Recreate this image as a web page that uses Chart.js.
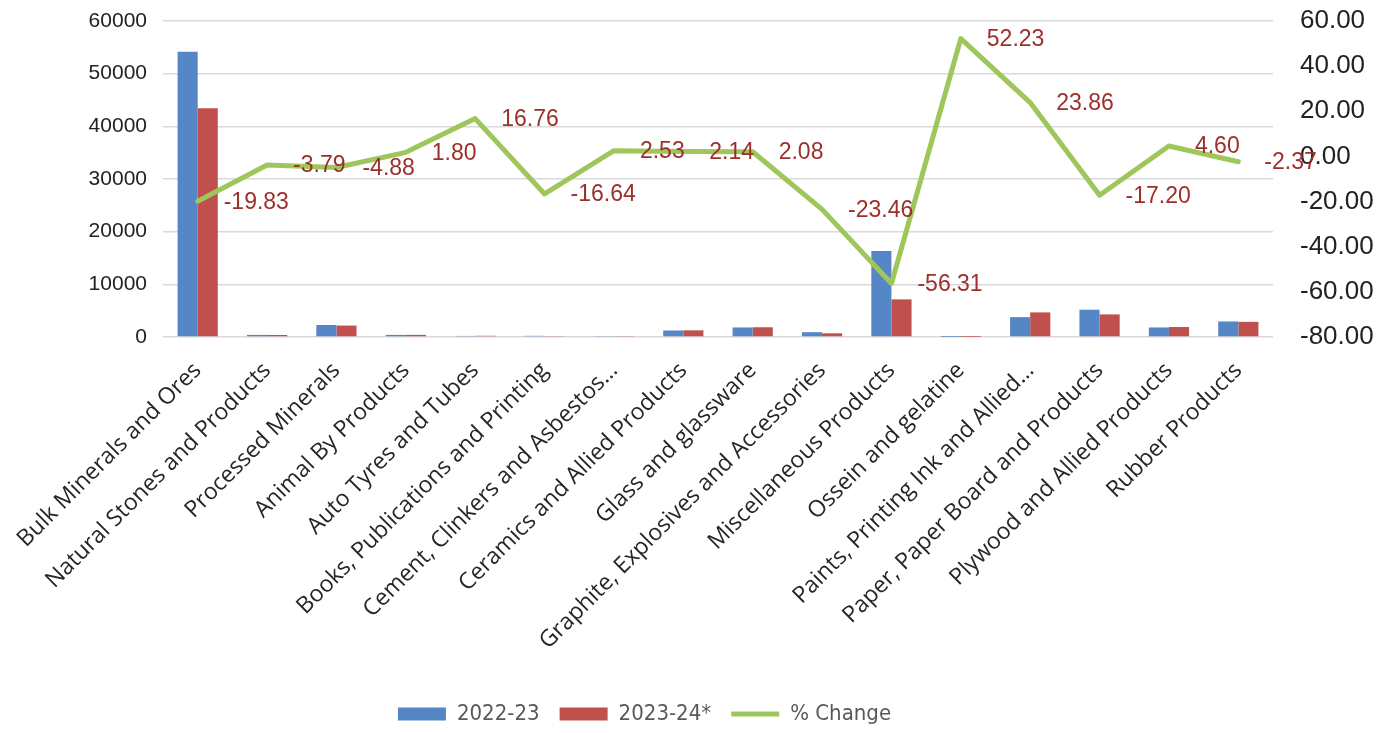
<!DOCTYPE html>
<html>
<head>
<meta charset="utf-8">
<script src="https://cdn.jsdelivr.net/npm/chart.js@4.4.1/dist/chart.umd.min.js"></script>
<style>
  html, body { margin: 0; padding: 0; background: #ffffff; }
  #wrap { width: 1397px; height: 733px; position: relative; }
</style>
</head>
<body>
<div id="wrap"><canvas id="c" width="1397" height="733"></canvas></div>
<script>
const categories = [
  "Bulk Minerals and Ores",
  "Natural Stones and Products",
  "Processed Minerals",
  "Animal By Products",
  "Auto Tyres and Tubes",
  "Books, Publications and Printing",
  "Cement, Clinkers and Asbestos…",
  "Ceramics and Allied Products",
  "Glass and glassware",
  "Graphite, Explosives and Accessories",
  "Miscellaneous Products",
  "Ossein and gelatine",
  "Paints, Printing Ink and Allied…",
  "Paper, Paper Board and Products",
  "Plywood and Allied Products",
  "Rubber Products"
];
const values2022 = [54170, 400, 2280, 400, 200, 220, 180, 1240, 1810, 915, 16350, 6, 3770, 5180, 1810, 2950];
const values2023 = [43430, 385, 2170, 407, 233, 183, 185, 1271, 1849, 700, 7143, 9, 4670, 4290, 1893, 2880];
const pctChange = [-19.83, -3.79, -4.88, 1.80, 16.76, -16.64, 2.53, 2.14, 2.08, -23.46, -56.31, 52.23, 23.86, -17.20, 4.60, -2.37];
const leftTicks = { min: 0, max: 60000, step: 10000 };
const rightTicks = { min: -80, max: 60, step: 20 };
const seriesNames = ["2022-23", "2023-24*", "% Change"];

const lineLabels = {
  id: 'lineLabels',
  afterDatasetsDraw(chart) {
    const idx = 2;
    const meta = chart.getDatasetMeta(idx);
    const data = chart.data.datasets[idx].data;
    const ctx = chart.ctx;
    ctx.save();
    ctx.font = '23px "Liberation Sans", Arial, sans-serif';
    ctx.fillStyle = '#9C2F2B';
    ctx.textAlign = 'left';
    ctx.textBaseline = 'middle';
    meta.data.forEach((pt, i) => {
      ctx.fillText(Number(data[i]).toFixed(2), pt.x + 26, pt.y + 1);
    });
    ctx.restore();
  }
};

// Excel centres the legend slightly left of the page centre
const legendShift = {
  id: 'legendShift',
  afterLayout(chart) {
    const lg = chart.legend;
    if (lg) { lg.left -= 54; lg.right -= 54; }
  }
};

new Chart(document.getElementById('c'), {
  data: {
    labels: categories,
    datasets: [
      {
        type: 'bar', label: seriesNames[0], data: values2022,
        backgroundColor: '#5587C6', borderWidth: 0, yAxisID: 'y', order: 1,
        categoryPercentage: 0.58, barPercentage: 1.0, pointStyle: 'rect'
      },
      {
        type: 'bar', label: seriesNames[1], data: values2023,
        backgroundColor: '#C0504D', borderWidth: 0, yAxisID: 'y', order: 1,
        categoryPercentage: 0.58, barPercentage: 1.0, pointStyle: 'rect'
      },
      {
        type: 'line', label: seriesNames[2], data: pctChange,
        borderColor: '#9FC65A', backgroundColor: '#9FC65A', borderWidth: 5,
        pointRadius: 0, tension: 0, yAxisID: 'y1', order: 0,
        borderJoinStyle: 'round', borderCapStyle: 'round', pointStyle: 'line'
      }
    ]
  },
  options: {
    responsive: false,
    animation: false,
    devicePixelRatio: 1,
    layout: { padding: { left: 0, right: 0, top: 21, bottom: -2 } },
    plugins: {
      tooltip: { enabled: false },
      legend: {
        position: 'bottom',
        labels: {
          usePointStyle: true,
          pointStyleWidth: 48,
          boxHeight: 13,
          padding: 20,
          color: '#595959',
          font: { family: '"Liberation Sans Narrow", "Arial Narrow", "DejaVu Sans Condensed", sans-serif', size: 22 },
          sort: (a, b) => a.datasetIndex - b.datasetIndex
        }
      }
    },
    scales: {
      x: {
        grid: { display: false, drawTicks: false },
        border: { display: false },
        ticks: {
          autoSkip: false, minRotation: 45, maxRotation: 45, padding: 20,
          color: '#262626',
          font: { family: '"Open Sans", sans-serif', size: 23 }
        },
        afterFit(s) { s.height = 346; s.paddingLeft = 0; s.paddingRight = 0; }
      },
      y: {
        position: 'left',
        min: leftTicks.min, max: leftTicks.max,
        grid: { color: '#D9D9D9', lineWidth: 1.5, drawTicks: true, tickLength: 16, tickColor: 'rgba(0,0,0,0)' },
        border: { display: false },
        ticks: {
          stepSize: leftTicks.step, padding: 0, color: '#222222',
          font: { family: '"Liberation Sans", Arial, sans-serif', size: 21 },
          callback: v => String(v)
        },
        afterFit(s) { s.width = 163; }
      },
      y1: {
        position: 'right',
        min: rightTicks.min, max: rightTicks.max,
        grid: { display: false, drawTicks: true, tickLength: 27 },
        border: { display: false },
        ticks: {
          stepSize: rightTicks.step, padding: 0, color: '#222222', crossAlign: 'near',
          font: { family: '"Liberation Sans", Arial, sans-serif', size: 26 },
          callback: v => Number(v).toFixed(2)
        },
        afterFit(s) { s.width = 124; }
      }
    }
  },
  plugins: [lineLabels, legendShift]
});
</script>
</body>
</html>
